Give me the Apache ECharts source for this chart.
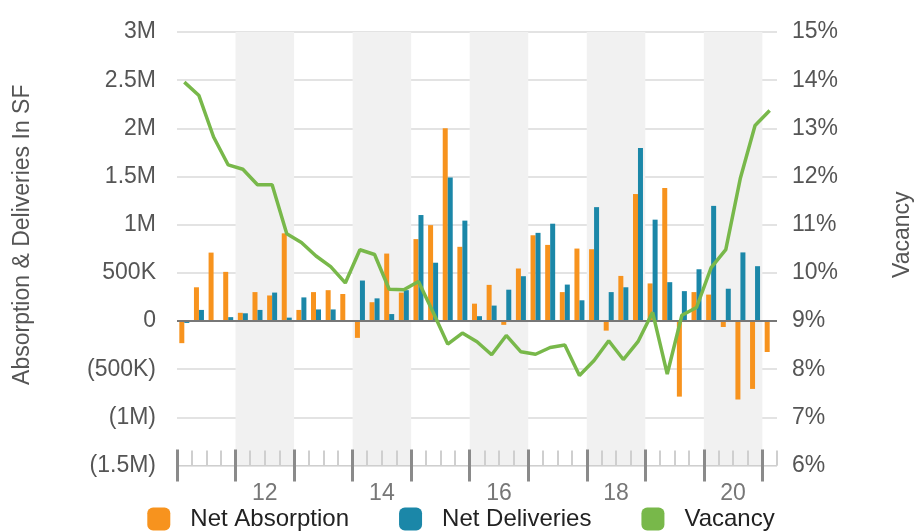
<!DOCTYPE html>
<html>
<head>
<meta charset="utf-8">
<script src="https://cdn.jsdelivr.net/npm/echarts@6/dist/echarts.min.js"></script>
<style>
  html, body { margin: 0; padding: 0; background: #fff; }
  #chart { width: 922px; height: 531px; }
</style>
</head>
<body>
<div id="chart"></div>
<script>
// quarters 2011 Q1 .. 2021 Q1
var quarters = [
  '2011 Q1', '2011 Q2', '2011 Q3', '2011 Q4',
  '2012 Q1', '2012 Q2', '2012 Q3', '2012 Q4',
  '2013 Q1', '2013 Q2', '2013 Q3', '2013 Q4',
  '2014 Q1', '2014 Q2', '2014 Q3', '2014 Q4',
  '2015 Q1', '2015 Q2', '2015 Q3', '2015 Q4',
  '2016 Q1', '2016 Q2', '2016 Q3', '2016 Q4',
  '2017 Q1', '2017 Q2', '2017 Q3', '2017 Q4',
  '2018 Q1', '2018 Q2', '2018 Q3', '2018 Q4',
  '2019 Q1', '2019 Q2', '2019 Q3', '2019 Q4',
  '2020 Q1', '2020 Q2', '2020 Q3', '2020 Q4',
  '2021 Q1'
];

// thousands of SF
var netAbsorption = [
  -230, 350, 710, 510, 85, 300, 265, 910, 115, 300, 320, 280,
  -175, 195, 700, 295, 850, 995, 2000, 770, 180, 375, -40, 545,
  890, 790, 300, 752, 745, -100, 468, 1318, 390, 1380, -785, 300,
  274, -62, -815, -705, -322
];
var netDeliveries = [
  -20, 115, 0, 40, 80, 115, 295, 35, 245, 120, 120, 0,
  420, 235, 72, 320, 1100, 605, 1490, 1042, 50, 160, 325, 465,
  915, 1010, 378, 215, 1182, 300, 350, 1797, 1052, 403, 310, 537,
  1195, 335, 712, 569, null
];
// percent
var vacancy = [
  13.96, 13.68, 12.82, 12.24, 12.15, 11.83, 11.83, 10.81, 10.63, 10.35, 10.13, 9.79,
  10.48, 10.38, 9.66, 9.65, 9.82, 9.18, 8.52, 8.75, 8.57, 8.30, 8.70, 8.36,
  8.31, 8.45, 8.50, 7.87, 8.18, 8.59, 8.20, 8.57, 9.18, 7.90, 9.12, 9.28,
  10.11, 10.48, 11.97, 13.06, 13.37
];

var yearLabels = ['12', '14', '16', '18', '20'];

var FONT = 'Liberation Sans';

// year boundaries (start of each Q1) and label spots (middle of year = start of Q3)
var yearTicks = [];
quarters.forEach(function (q, i) {
  if (q.slice(-2) === 'Q1') yearTicks.push(i);
});
var labelSpots = yearLabels.map(function (y) {
  return quarters.indexOf('20' + y + ' Q3');
});

function fmtSF(v) {
  if (v === 0) return '0';
  var a = Math.abs(v);
  var s = a >= 1000 ? (a / 1000) + 'M' : a + 'K';
  return v < 0 ? '(' + s + ')' : s;
}

var chart = echarts.init(document.getElementById('chart'));

chart.setOption({
  animation: false,
  textStyle: { fontFamily: FONT },
  grid: { left: 177, right: 138, top: 32, bottom: 65.5, containLabel: false },
  legend: {
    data: ['Net Absorption', 'Net Deliveries', 'Vacancy'],
    left: 'center',
    top: 502,
    icon: 'roundRect',
    itemWidth: 23,
    itemHeight: 23,
    itemGap: 50,
    textStyle: { fontSize: 24, color: '#222', fontFamily: FONT, padding: [0, 0, 0, 15] }
  },
  xAxis: [
    {
      type: 'category',
      data: quarters,
      position: 'bottom',
      boundaryGap: true,
      axisLine: { show: true, onZero: false, lineStyle: { color: '#cfcfcf', width: 1 } },
      axisTick: { show: true, inside: true, length: 15, interval: 0, lineStyle: { color: '#cfcfcf', width: 2 } },
      axisLabel: { show: false },
      splitLine: { show: false }
    },
    {
      type: 'value',
      min: 0,
      max: quarters.length,
      position: 'bottom',
      axisLine: { show: false, onZero: false },
      splitLine: { show: false },
      splitArea: { show: true, areaStyle: { color: ['rgba(0,0,0,0)', '#f1f1f1'] } },
      axisTick: { show: true, customValues: yearTicks, inside: false, length: 16, lineStyle: { color: '#8a8a8a', width: 3 } },
      axisLabel: {
        show: true,
        customValues: labelSpots,
        margin: 17,
        fontSize: 23,
        color: '#777',
        fontFamily: FONT,
        formatter: function (v) { return yearLabels[labelSpots.indexOf(v)]; }
      }
    },
    {
      type: 'value',
      min: 0,
      max: quarters.length,
      position: 'bottom',
      axisLine: { show: false, onZero: false },
      splitLine: { show: false },
      axisTick: { show: true, customValues: yearTicks, inside: true, length: 16, lineStyle: { color: '#8a8a8a', width: 3 } },
      axisLabel: { show: false }
    }
  ],
  yAxis: [
    {
      type: 'value',
      position: 'left',
      min: -1500,
      max: 3000,
      interval: 500,
      name: 'Absorption & Deliveries In SF',
      nameLocation: 'middle',
      nameRotate: 90,
      nameGap: 143,
      nameTextStyle: { fontSize: 23, color: '#555', fontFamily: FONT, padding: [0, 0, 0, 28] },
      axisLine: { show: false },
      axisTick: { show: false },
      axisLabel: { margin: 21, fontSize: 23, color: '#555', fontFamily: FONT, formatter: fmtSF },
      splitLine: { show: true, lineStyle: { color: '#dadada', width: 1.5 } }
    },
    {
      type: 'value',
      position: 'right',
      min: 6,
      max: 15,
      interval: 1,
      name: 'Vacancy',
      nameLocation: 'middle',
      nameRotate: 90,
      nameGap: 114,
      nameTextStyle: { fontSize: 23, color: '#555', fontFamily: FONT, padding: [0, 0, 0, 28] },
      axisLine: { show: false },
      axisTick: { show: false },
      axisLabel: { margin: 15, fontSize: 23, color: '#555', fontFamily: FONT, formatter: '{value}%' },
      splitLine: { show: false }
    }
  ],
  series: [
    {
      name: 'Net Absorption',
      type: 'bar',
      xAxisIndex: 0,
      yAxisIndex: 0,
      data: netAbsorption,
      barWidth: 5,
      barGap: 0,
      itemStyle: { color: '#f7931e' },
      markLine: {
        silent: true,
        symbol: ['none', 'none'],
        label: { show: false },
        lineStyle: { color: '#777', width: 2, type: 'solid' },
        data: [{ yAxis: 0 }]
      }
    },
    {
      name: 'Net Deliveries',
      type: 'bar',
      xAxisIndex: 0,
      yAxisIndex: 0,
      data: netDeliveries,
      barWidth: 5,
      barGap: 0,
      itemStyle: { color: '#1b87a8' }
    },
    {
      name: 'Vacancy',
      type: 'line',
      xAxisIndex: 0,
      yAxisIndex: 1,
      data: vacancy,
      symbol: 'none',
      z: 5,
      itemStyle: { color: '#78b84a' },
      lineStyle: { color: '#78b84a', width: 3.5 }
    }
  ]
});
</script>
</body>
</html>
